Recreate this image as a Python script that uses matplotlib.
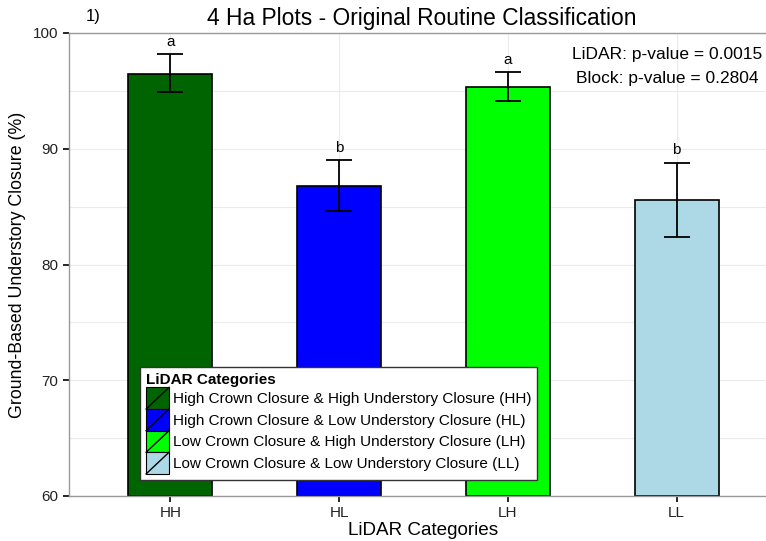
import matplotlib
matplotlib.use('Agg')
import matplotlib.pyplot as plt
from matplotlib.patches import Rectangle
from matplotlib.lines import Line2D
from matplotlib.legend_handler import HandlerPatch

plt.rcParams['font.family'] = ['Liberation Sans', 'DejaVu Sans']

categories = ['HH', 'HL', 'LH', 'LL']
means = [96.5, 86.8, 95.3, 85.6]
err_low = [94.9, 84.6, 94.1, 82.4]
err_high = [98.2, 89.0, 96.6, 88.8]
letters = ['a', 'b', 'a', 'b']
colors = ['#006400', '#0000FF', '#00FF00', '#ADD8E6']
legend_labels = [
    'High Crown Closure & High Understory Closure (HH)',
    'High Crown Closure & Low Understory Closure (HL)',
    'Low Crown Closure & High Understory Closure (LH)',
    'Low Crown Closure & Low Understory Closure (LL)',
]


class SlashKey(HandlerPatch):
    # filled box with a diagonal stroke, like the ggplot key
    def create_artists(self, legend, orig_handle, xdescent, ydescent,
                       width, height, fontsize, trans):
        r = Rectangle((-xdescent, -ydescent), width, height,
                      facecolor=orig_handle.get_facecolor(),
                      edgecolor='black', lw=0.8, transform=trans)
        ln = Line2D([-xdescent, -xdescent + width],
                    [-ydescent, -ydescent + height],
                    color='black', lw=1.0, transform=trans)
        return [r, ln]


fig = plt.figure(figsize=(7.66, 5.41), dpi=100)
ax = fig.add_axes([69 / 766, 45 / 541, 709 / 766, 463 / 541])

x = list(range(1, len(categories) + 1))
ax.set_xlim(0.4, 4.6)
ax.set_ylim(60, 100)

# light panel grid
for v in range(60, 101, 5):
    ax.axhline(v, color='#EBEBEB', lw=0.8, zorder=0)
for xi in x:
    ax.axvline(xi, color='#EBEBEB', lw=0.8, zorder=0)

ax.bar(x, [m - 60 for m in means], bottom=60, width=0.5, color=colors,
       edgecolor='black', lw=1.2, zorder=2)
yerr = [[m - lo for m, lo in zip(means, err_low)],
        [hi - m for m, hi in zip(means, err_high)]]
ax.errorbar(x, means, yerr=yerr, fmt='none', ecolor='black', elinewidth=1.3,
            capsize=9.5, capthick=1.3, zorder=3)
for xi, hi, lt in zip(x, err_high, letters):
    ax.text(xi, hi + 0.45, lt, ha='center', va='bottom', fontsize=11)

ax.set_yticks([60, 70, 80, 90, 100])
ax.set_xticks(x)
ax.set_xticklabels(categories)
ax.tick_params(axis='both', labelsize=11, length=4, width=1.2, color='black',
               labelcolor='#222222')
for side in ['left', 'bottom', 'top']:
    ax.spines[side].set_color('#999999')
    ax.spines[side].set_linewidth(1.0)
ax.spines['right'].set_visible(False)

ax.set_xlabel('LiDAR Categories', fontsize=13.6, labelpad=1)
ax.set_ylabel('Ground-Based Understory Closure (%)', fontsize=12.8, labelpad=5)

fig.text(422 / 766, 1 - 18 / 541, '4 Ha Plots - Original Routine Classification',
         ha='center', va='center', fontsize=16.4)
fig.text(93 / 766, 1 - 17 / 541, '1)', ha='center', va='center', fontsize=12)

fig.text(762 / 766, 1 - 54 / 541, 'LiDAR: p-value = 0.0015',
         ha='right', va='center', fontsize=12.5)
fig.text(758 / 766, 1 - 79 / 541, 'Block: p-value = 0.2804',
         ha='right', va='center', fontsize=12.5)

handles = [Rectangle((0, 0), 1, 1, facecolor=c) for c in colors]
leg = ax.legend(handles, legend_labels, title='LiDAR Categories',
                handler_map={Rectangle: SlashKey()},
                loc='lower left', bbox_to_anchor=((140 - 69) / 709, (496 - 480) / 463),
                fontsize=11, title_fontsize=11, frameon=True, fancybox=False,
                edgecolor='#333333', framealpha=1, handlelength=1.5,
                handleheight=1.8, handletextpad=0.25, labelspacing=0.0,
                borderpad=0.4, alignment='left', borderaxespad=0)
leg.get_title().set_fontweight('bold')
leg.get_frame().set_linewidth(1.0)
leg.set_zorder(5)

fig.savefig('out.png', dpi=100)
